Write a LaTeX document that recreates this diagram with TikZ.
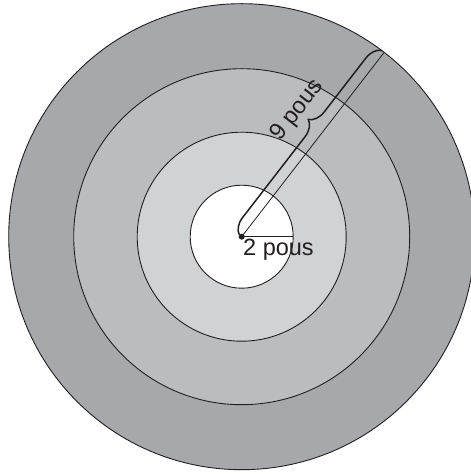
\documentclass[tikz,border=0pt]{standalone}
\usepackage{fontspec}
\setmainfont{Liberation Sans}
\usetikzlibrary{decorations.pathreplacing,calc}
\definecolor{ringA}{HTML}{A7A8AB}
\definecolor{ringB}{HTML}{BBBCBF}
\definecolor{ringC}{HTML}{D1D2D4}
\definecolor{ink}{HTML}{231F20}
\begin{document}
\begin{tikzpicture}[x=1pt,y=1pt,
  ring/.style={draw=ink,line width=0.9pt},
  thin/.style={draw=ink,line width=0.8pt},
  lbl/.style={font=\fontsize{23.5}{27}\selectfont, text=ink, inner sep=0pt}]
\useasboundingbox (0,0) rectangle (471,474);
\coordinate (O) at (241.7,237.3);
\filldraw[ring, fill=ringA] (O) circle (233pt);
\filldraw[ring, fill=ringB] (O) circle (168pt);
\filldraw[ring, fill=ringC] (O) circle (104.5pt);
\filldraw[ring, fill=white] (O) circle (51.5pt);
\coordinate (E) at ($(O)+(52.3:233pt)$);
\coordinate (R) at ($(O)+(51.5pt,0)$);
\draw[thin] (O) -- (E);
\draw[thin] (O) -- (R);
\draw[draw=ink, line width=1.5pt, decorate,
  decoration={brace, amplitude=16pt, raise=3pt, aspect=0.573}] (O) -- (E);
\fill[ink] (O) circle (3pt);
\node[lbl, rotate=52.3] (t9) at ($(O)+(52.3:134pt)+(142.3:33pt)$) {9 pous};
\node[lbl, anchor=base west] (t2) at (243,218) {2 pous};
\end{tikzpicture}
\end{document}
